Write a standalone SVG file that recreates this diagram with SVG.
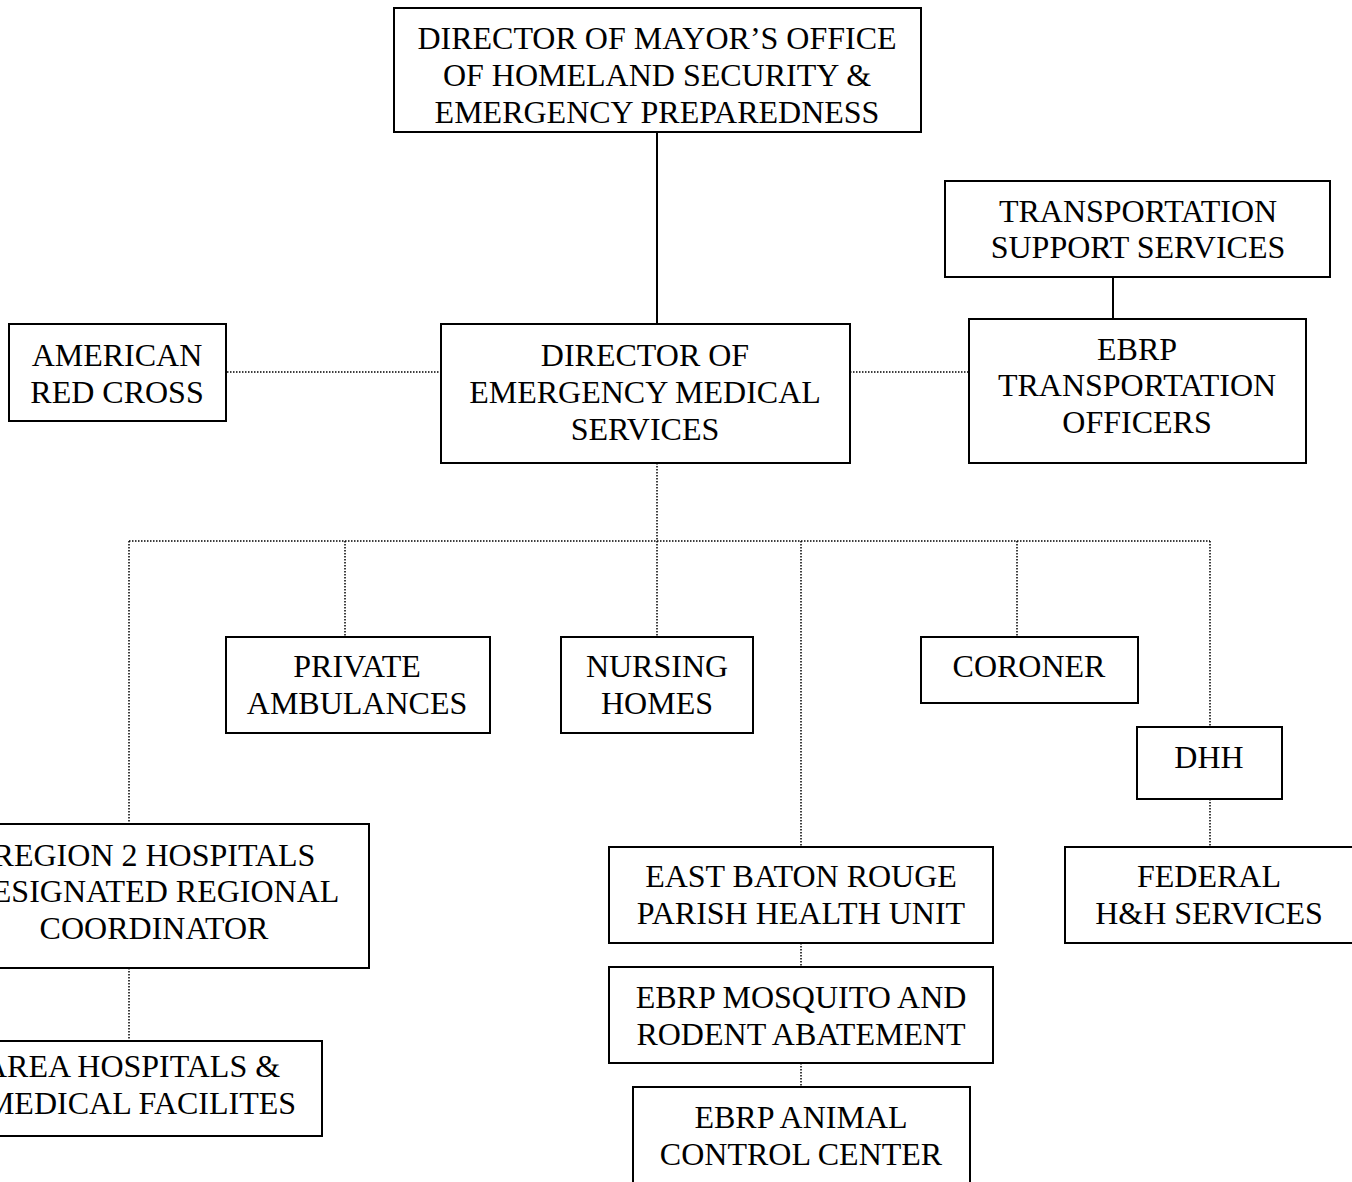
<svg xmlns="http://www.w3.org/2000/svg" width="1352" height="1182" viewBox="0 0 1352 1182">
<style>
.box{fill:#fff;stroke:#000;stroke-width:2}
.t{font-family:"Liberation Serif","Times New Roman",serif;font-size:32px;fill:#000;text-anchor:middle}
.solid{stroke:#000;stroke-width:2;fill:none}
.dot{stroke:#000;stroke-width:1.5;stroke-dasharray:1.5 1.5;fill:none}
</style>
<rect width="1352" height="1182" fill="#fff"/>
<g id="connectors">
<line class="solid" x1="657" y1="132" x2="657" y2="324"/>
<line class="solid" x1="1113" y1="277" x2="1113" y2="319"/>
<line class="dot" x1="200" y1="372" x2="441" y2="372"/>
<line class="dot" x1="850" y1="372" x2="969" y2="372"/>
<line class="dot" x1="657" y1="463" x2="657" y2="541"/>
<line class="dot" x1="129" y1="541" x2="1210" y2="541"/>
<line class="dot" x1="129" y1="541" x2="129" y2="824"/>
<line class="dot" x1="345" y1="541" x2="345" y2="637"/>
<line class="dot" x1="657" y1="541" x2="657" y2="637"/>
<line class="dot" x1="801" y1="541" x2="801" y2="847"/>
<line class="dot" x1="1017" y1="541" x2="1017" y2="637"/>
<line class="dot" x1="1210" y1="541" x2="1210" y2="727"/>
<line class="dot" x1="1210" y1="799" x2="1210" y2="847"/>
<line class="dot" x1="129" y1="968" x2="129" y2="1041"/>
<line class="dot" x1="801" y1="943" x2="801" y2="967"/>
<line class="dot" x1="801" y1="1063" x2="801" y2="1087"/>
</g>
<g id="director-mayors-office">
<rect class="box" x="394" y="8" width="527" height="124"/>
<text class="t" x="657" y="49">DIRECTOR OF MAYOR’S OFFICE</text>
<text class="t" x="657" y="86">OF HOMELAND SECURITY &amp;</text>
<text class="t" x="657" y="123">EMERGENCY PREPAREDNESS</text>
</g>
<g id="transportation-support">
<rect class="box" x="945" y="181" width="385" height="96"/>
<text class="t" x="1138" y="222">TRANSPORTATION</text>
<text class="t" x="1138" y="258">SUPPORT SERVICES</text>
</g>
<g id="ebrp-transportation-officers">
<rect class="box" x="969" y="319" width="337" height="144"/>
<text class="t" x="1137" y="360">EBRP</text>
<text class="t" x="1137" y="396">TRANSPORTATION</text>
<text class="t" x="1137" y="433">OFFICERS</text>
</g>
<g id="american-red-cross">
<rect class="box" x="9" y="324" width="217" height="97"/>
<text class="t" x="117" y="366">AMERICAN</text>
<text class="t" x="117" y="403">RED CROSS</text>
</g>
<g id="director-ems">
<rect class="box" x="441" y="324" width="409" height="139"/>
<text class="t" x="645" y="366">DIRECTOR OF</text>
<text class="t" x="645" y="403">EMERGENCY MEDICAL</text>
<text class="t" x="645" y="440">SERVICES</text>
</g>
<g id="private-ambulances">
<rect class="box" x="226" y="637" width="264" height="96"/>
<text class="t" x="357" y="677">PRIVATE</text>
<text class="t" x="357" y="714">AMBULANCES</text>
</g>
<g id="nursing-homes">
<rect class="box" x="561" y="637" width="192" height="96"/>
<text class="t" x="657" y="677">NURSING</text>
<text class="t" x="657" y="714">HOMES</text>
</g>
<g id="coroner">
<rect class="box" x="921" y="637" width="217" height="66"/>
<text class="t" x="1029" y="677">CORONER</text>
</g>
<g id="dhh">
<rect class="box" x="1137" y="727" width="145" height="72"/>
<text class="t" x="1209" y="768">DHH</text>
</g>
<g id="federal-hh-services">
<rect class="box" x="1065" y="847" width="300" height="96"/>
<text class="t" x="1209" y="887">FEDERAL</text>
<text class="t" x="1209" y="924">H&amp;H SERVICES</text>
</g>
<g id="region2-hospitals">
<rect class="box" x="-61" y="824" width="430" height="144"/>
<text class="t" x="154" y="866">REGION 2 HOSPITALS</text>
<text class="t" x="154" y="902">DESIGNATED REGIONAL</text>
<text class="t" x="154" y="939">COORDINATOR</text>
</g>
<g id="area-hospitals">
<rect class="box" x="-60" y="1041" width="382" height="95"/>
<text class="t" x="132" y="1077">AREA HOSPITALS &amp;</text>
<text class="t" x="141" y="1114">MEDICAL FACILITES</text>
</g>
<g id="ebr-parish-health-unit">
<rect class="box" x="609" y="847" width="384" height="96"/>
<text class="t" x="801" y="887">EAST BATON ROUGE</text>
<text class="t" x="801" y="924">PARISH HEALTH UNIT</text>
</g>
<g id="ebrp-mosquito-rodent">
<rect class="box" x="609" y="967" width="384" height="96"/>
<text class="t" x="801" y="1008">EBRP MOSQUITO AND</text>
<text class="t" x="801" y="1045">RODENT ABATEMENT</text>
</g>
<g id="ebrp-animal-control">
<rect class="box" x="633" y="1087" width="337" height="110"/>
<text class="t" x="801" y="1128">EBRP ANIMAL</text>
<text class="t" x="801" y="1165">CONTROL CENTER</text>
</g>
</svg>
